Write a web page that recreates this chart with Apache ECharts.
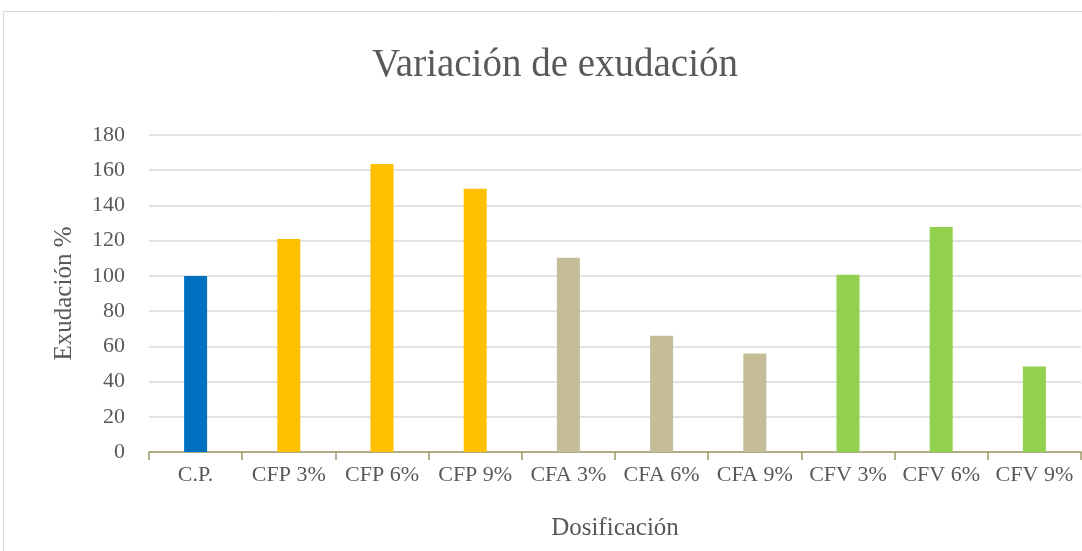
<!DOCTYPE html>
<html>
<head>
<meta charset="utf-8">
<script src="https://cdn.jsdelivr.net/npm/echarts@6/dist/echarts.min.js"></script>
<style>
  html, body { margin: 0; padding: 0; background: #fff; }
  #chart-root { width: 1082px; height: 551px; }
</style>
</head>
<body>
<div id="chart-root"></div>
<script>
// dosificaciones y exudación (%)
const categories = ["C.P.", "CFP 3%", "CFP 6%", "CFP 9%", "CFA 3%", "CFA 6%", "CFA 9%", "CFV 3%", "CFV 6%", "CFV 9%"];
const exudacion = [100, 121, 163.5, 149.5, 110.3, 66, 56, 100.7, 127.8, 48.5];
const barColors = ["#0070C0", "#FFC000", "#FFC000", "#FFC000", "#C4BD97", "#C4BD97", "#C4BD97", "#92D050", "#92D050", "#92D050"];

const fontFamily = "'Liberation Serif', 'DejaVu Serif', serif";
const textColor = "#595959";

let chart = echarts.init(document.getElementById("chart-root"));

let option = {
  animation: false,
  backgroundColor: "#fff",
  textStyle: { fontFamily: fontFamily, color: textColor },
  title: {
    text: "Variación de exudación",
    left: 367,
    top: 41,
    textStyle: {
      fontFamily: fontFamily,
      fontSize: 39,
      fontWeight: "normal",
      color: textColor
    }
  },
  graphic: [
    {
      type: "rect",
      silent: true,
      shape: { x: 3.5, y: 11.5, width: 1200, height: 700 },
      style: { fill: null, stroke: "#d9d9d9", lineWidth: 1 }
    }
  ],
  grid: {
    top: 135,
    bottom: 99,
    left: 149,
    right: 1
  },
  xAxis: {
    type: "category",
    data: categories,
    name: "Dosificación",
    nameLocation: "middle",
    nameGap: 64,
    nameTextStyle: { fontSize: 25, color: textColor, fontFamily: fontFamily },
    axisLine: { lineStyle: { color: "#A0996A", width: 1.5 } },
    axisTick: { show: true, length: 8, interval: 0, lineStyle: { color: "#A0996A", width: 1.5 } },
    axisLabel: { interval: 0, margin: 12, fontSize: 22, color: textColor, fontFamily: fontFamily }
  },
  yAxis: {
    type: "value",
    min: 0,
    max: 180,
    interval: 20,
    name: "Exudación %",
    nameLocation: "middle",
    nameGap: 72,
    nameRotate: 90,
    nameTextStyle: { fontSize: 25, color: textColor, fontFamily: fontFamily },
    axisLine: { show: false },
    axisTick: { show: false },
    axisLabel: { margin: 24, fontSize: 22, color: textColor, fontFamily: fontFamily },
    splitLine: { lineStyle: { color: "#d9d9d9", width: 1.5 } }
  },
  series: [
    {
      name: "Exudación",
      type: "bar",
      barWidth: 23,
      data: exudacion.map((v, i) => ({ value: v, itemStyle: { color: barColors[i] } }))
    }
  ]
};

chart.setOption(option);
</script>
</body>
</html>
